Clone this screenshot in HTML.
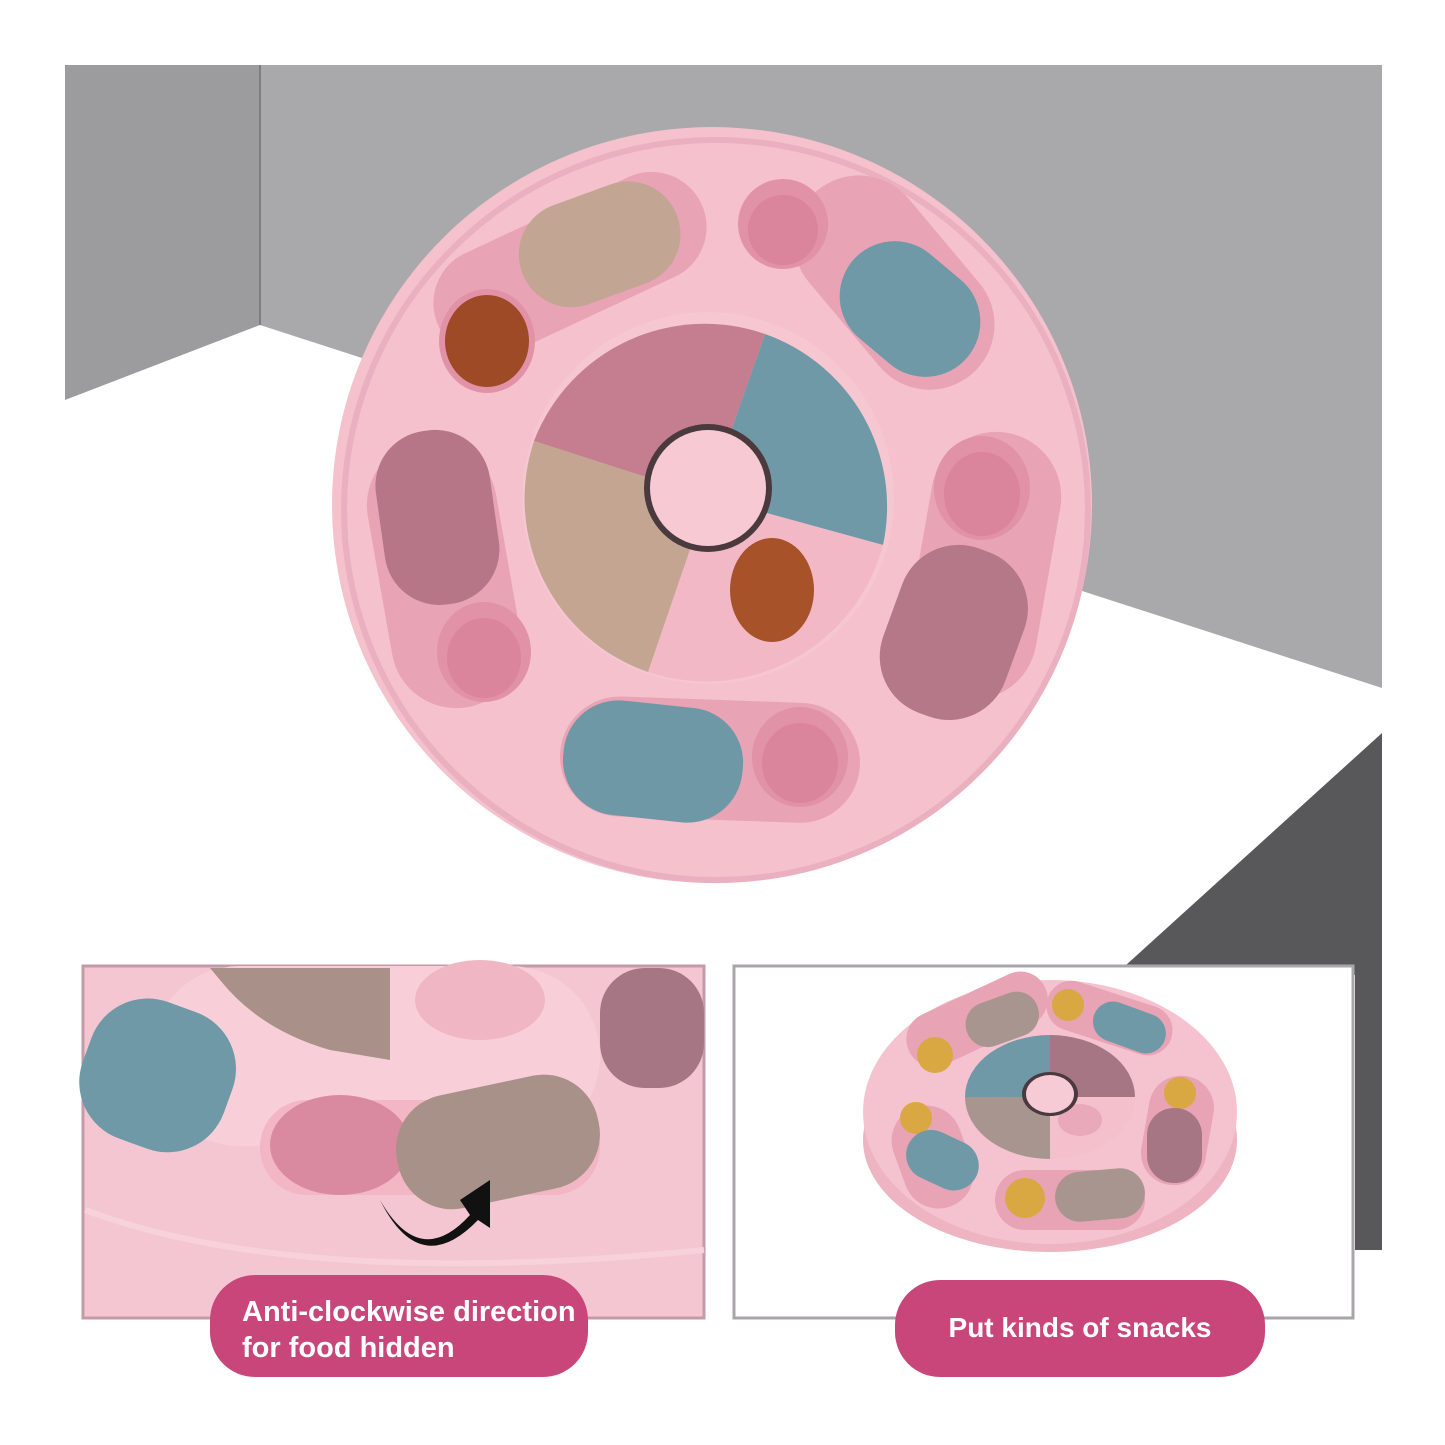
<!DOCTYPE html>
<html><head><meta charset="utf-8"><style>
html,body{margin:0;padding:0;background:#fff}
svg{display:block}
text{font-family:"Liberation Sans",sans-serif;font-weight:bold;fill:#fff}
</style></head><body>
<svg width="1445" height="1445" viewBox="0 0 1445 1445" xmlns="http://www.w3.org/2000/svg">
<rect width="1445" height="1445" fill="#fff"/>
<!-- room background -->
<rect x="65" y="65" width="1317" height="640" fill="#a9a8ab"/>
<rect x="65" y="65" width="195" height="340" fill="#9c9b9e"/>
<line x1="260" y1="65" x2="260" y2="325" stroke="#7e7d80" stroke-width="2"/>
<polygon points="65,400 260,325 1382,688 1382,760 65,760" fill="#fff"/>
<polygon points="1382,733 1115,975 1382,975" fill="#58585a"/>
<rect x="1355" y="960" width="27" height="290" fill="#58585a"/>

<!-- main wheel -->
<ellipse cx="712" cy="505" rx="380" ry="378" fill="#f4c1cd"/>
<ellipse cx="716" cy="510" rx="372" ry="370" fill="none" stroke="#eab0bf" stroke-width="6"/>
<!-- slot grooves -->
<g fill="#e8a3b5">
<rect x="425" y="210" width="290" height="110" rx="55" transform="rotate(-25 570 265)"/>
<rect x="830" y="195" width="130" height="240" rx="65" transform="rotate(-40 850 300)"/>
<rect x="380" y="440" width="130" height="270" rx="65" transform="rotate(-10 440 580)"/>
<rect x="920" y="430" width="130" height="270" rx="65" transform="rotate(10 980 560)"/>
<rect x="560" y="700" width="300" height="120" rx="60" transform="rotate(2 720 760)"/>
</g>
<!-- recesses -->
<g fill="#e192a6">
<ellipse cx="487" cy="341" rx="48" ry="52"/>
<ellipse cx="783" cy="224" rx="45" ry="45"/>
<ellipse cx="484" cy="652" rx="47" ry="50"/>
<ellipse cx="982" cy="488" rx="48" ry="52"/>
<ellipse cx="800" cy="757" rx="48" ry="50"/>
</g>
<g fill="#d3788f" opacity="0.5">
<ellipse cx="783" cy="230" rx="35" ry="35"/>
<ellipse cx="484" cy="658" rx="37" ry="40"/>
<ellipse cx="982" cy="494" rx="38" ry="42"/>
<ellipse cx="800" cy="763" rx="38" ry="40"/>
</g>
<ellipse cx="487" cy="341" rx="42" ry="46" fill="#9e4a27"/>
<!-- pills -->
<rect x="517" y="192" width="165" height="105" rx="52" fill="#c3a594" transform="rotate(-20 599 244)"/>
<rect x="835" y="254" width="150" height="110" rx="55" fill="#6f99a6" transform="rotate(40 910 309)"/>
<rect x="380" y="430" width="115" height="175" rx="55" fill="#b77688" transform="rotate(-8 437 518)"/>
<rect x="889" y="545" width="130" height="175" rx="60" fill="#b57888" transform="rotate(20 954 632)"/>
<rect x="563" y="704" width="180" height="115" rx="55" fill="#6e98a5" transform="rotate(6 653 762)"/>
<!-- hub -->
<ellipse cx="708" cy="498" rx="186" ry="186" fill="#f6c6d1"/>
<g transform="translate(708 497)">
<path d="M0 0 L-174 -56 A183 183 0 0 1 57 -163 Z" fill="#c57d90"/>
<path d="M0 0 L57 -163 A183 183 0 0 1 175 48 Z" fill="#6f99a6"/>
<path d="M0 0 L175 48 A183 183 0 0 1 -60 175 Z" fill="#f3b8c6"/>
<path d="M0 0 L-60 175 A183 183 0 0 1 -174 -56 Z" fill="#c4a592"/>
</g>
<ellipse cx="772" cy="590" rx="42" ry="52" fill="#a8522a"/>
<ellipse cx="708" cy="488" rx="64" ry="64" fill="#4a3a3e"/>
<ellipse cx="708" cy="488" rx="58" ry="58" fill="#f6c9d3"/>

<!-- bottom-left panel -->
<rect x="83" y="966" width="621" height="352" fill="#f4c6d1" stroke="#c49aa8" stroke-width="3"/>
<rect x="150" y="966" width="450" height="180" rx="90" fill="#f8cfd8"/>
<path d="M210 968 L390 968 L390 1060 L330 1050 Q260 1030 220 980 Z" fill="#a99189"/>
<rect x="84" y="1000" width="150" height="145" rx="60" fill="#6f99a6" transform="rotate(20 150 1070)"/>
<rect x="600" y="968" width="104" height="120" rx="45" fill="#a67684"/>
<ellipse cx="480" cy="1000" rx="65" ry="40" fill="#f0b6c3"/>
<rect x="260" y="1100" width="340" height="95" rx="47" fill="#f2b6c5"/>
<ellipse cx="340" cy="1145" rx="70" ry="50" fill="#d98aa0"/>
<rect x="395" y="1085" width="205" height="115" rx="55" fill="#a89188" transform="rotate(-12 495 1140)"/>
<path d="M380 1200 Q420 1270 470 1215 L460 1200 L490 1180 L490 1228 L478 1220 Q420 1280 380 1200 Z" fill="#111"/>
<path d="M85 1210 Q300 1290 704 1250" fill="none" stroke="#f8d2db" stroke-width="6"/>
<rect x="210" y="1275" width="378" height="102" rx="45" fill="#c9467a"/>
<text x="242" y="1321" font-size="29">Anti-clockwise direction</text>
<text x="242" y="1357" font-size="29">for food hidden</text>

<!-- bottom-right panel -->
<rect x="734" y="966" width="619" height="352" fill="#fff" stroke="#a8a6a8" stroke-width="3"/>
<ellipse cx="1050" cy="1140" rx="187" ry="112" fill="#eeb4c2"/>
<ellipse cx="1050" cy="1112" rx="187" ry="132" fill="#f4c3cf"/>
<g fill="#e8a3b5">
<rect x="905" y="1000" width="150" height="55" rx="27" transform="rotate(-25 960 1030)"/>
<rect x="1045" y="990" width="130" height="50" rx="25" transform="rotate(18 1100 1015)"/>
<rect x="895" y="1105" width="70" height="105" rx="35" transform="rotate(-20 930 1150)"/>
<rect x="1145" y="1075" width="65" height="110" rx="32" transform="rotate(10 1175 1130)"/>
<rect x="995" y="1170" width="150" height="60" rx="30"/>
</g>
<g fill="#d9a843">
<circle cx="935" cy="1055" r="18"/><circle cx="1068" cy="1005" r="16"/>
<circle cx="916" cy="1118" r="16"/><circle cx="1180" cy="1093" r="16"/><circle cx="1025" cy="1198" r="20"/>
</g>
<rect x="965" y="997" width="75" height="45" rx="22" fill="#a8958f" transform="rotate(-20 1002 1020)"/>
<rect x="1092" y="1007" width="75" height="40" rx="20" fill="#6f99a6" transform="rotate(20 1128 1027)"/>
<rect x="905" y="1135" width="75" height="50" rx="25" fill="#6f99a6" transform="rotate(25 942 1160)"/>
<rect x="1147" y="1108" width="55" height="75" rx="27" fill="#a67684"/>
<rect x="1055" y="1170" width="90" height="50" rx="25" fill="#a8958f" transform="rotate(-5 1100 1195)"/>
<g transform="translate(1050 1097)">
<path d="M0 0 L-85 0 A85 62 0 0 1 0 -62 Z" fill="#6f99a6"/>
<path d="M0 0 L0 -62 A85 62 0 0 1 85 0 Z" fill="#a67684"/>
<path d="M0 0 L85 0 A85 62 0 0 1 0 62 Z" fill="#f3c0cc"/>
<path d="M0 0 L0 62 A85 62 0 0 1 -85 0 Z" fill="#a8958f"/>
</g>
<ellipse cx="1080" cy="1120" rx="22" ry="16" fill="#eaa9bb"/>
<ellipse cx="1050" cy="1094" rx="28" ry="22" fill="#4a3a3e"/>
<ellipse cx="1050" cy="1094" rx="24" ry="19" fill="#f6cbd5"/>
<rect x="895" y="1280" width="370" height="97" rx="45" fill="#c9467a"/>
<text x="1080" y="1337" font-size="28" text-anchor="middle">Put kinds of snacks</text>
</svg>
</body></html>
